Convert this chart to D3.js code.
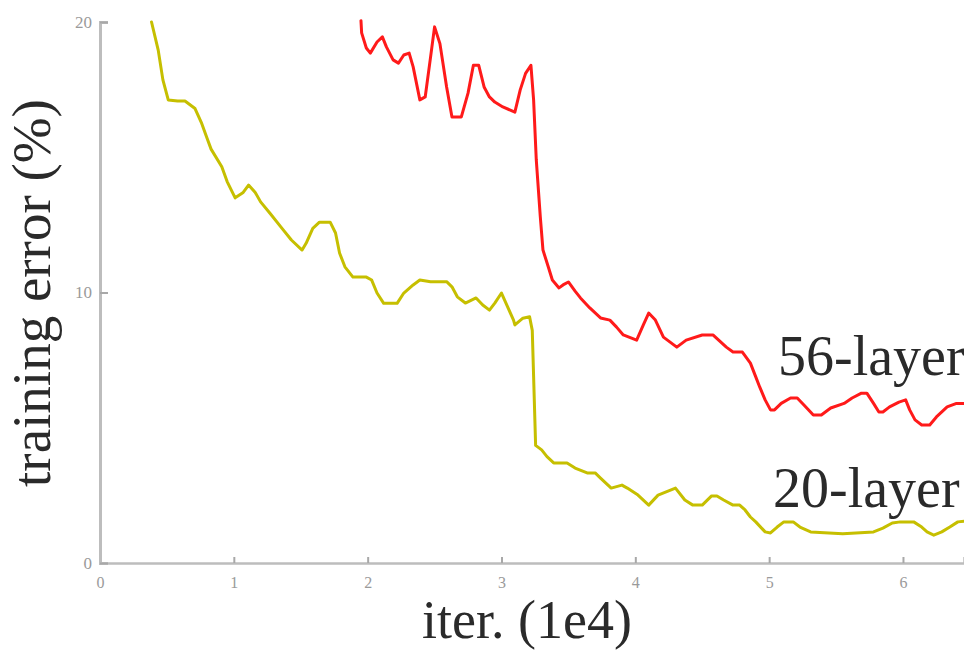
<!DOCTYPE html>
<html>
<head>
<meta charset="utf-8">
<script src="https://cdn.jsdelivr.net/npm/d3@7"></script>
<style>
  html, body { margin: 0; padding: 0; background: #fff; }
  svg { display: block; }
</style>
</head>
<body>
<svg id="chart" width="964" height="650"></svg>
<script>
// ---- data ----
const xTicks = [0, 1, 2, 3, 4, 5, 6];
const yTicks = [0, 10, 20];
const seriesNames = ["56-layer", "20-layer"];

const x56 = [1.95,1.955,1.99,2.02,2.07,2.11,2.14,2.19,2.23,2.27,2.31,2.34,2.39,2.43,2.47,2.50,2.54,2.59,2.63,2.70,2.75,2.79,2.83,2.87,2.91,2.95,3.01,3.10,3.14,3.18,3.22,3.24,3.26,3.29,3.31,3.35,3.38,3.43,3.46,3.50,3.55,3.59,3.66,3.74,3.81,3.86,3.91,4.01,4.06,4.10,4.15,4.21,4.31,4.38,4.50,4.58,4.68,4.73,4.80,4.86,4.90,4.93,4.97,5.01,5.04,5.09,5.16,5.21,5.26,5.33,5.39,5.46,5.56,5.62,5.69,5.73,5.78,5.82,5.85,5.90,5.97,6.02,6.05,6.09,6.14,6.20,6.25,6.33,6.40,6.46];
const y56 = [20.05,19.6,19.04,18.85,19.26,19.45,19.08,18.6,18.48,18.78,18.85,18.34,17.12,17.23,18.7,19.82,19.2,17.6,16.49,16.49,17.37,18.4,18.4,17.6,17.23,17.04,16.86,16.67,17.49,18.1,18.4,17.12,14.9,12.8,11.57,10.94,10.46,10.17,10.28,10.39,10.05,9.8,9.43,9.06,8.98,8.72,8.43,8.24,8.8,9.24,8.98,8.35,7.98,8.24,8.43,8.43,7.98,7.8,7.8,7.39,6.88,6.5,6.03,5.66,5.66,5.9,6.1,6.1,5.84,5.47,5.47,5.73,5.9,6.1,6.28,6.28,5.9,5.58,5.58,5.77,5.95,6.03,5.66,5.29,5.1,5.1,5.4,5.77,5.9,5.9];

const x20 = [0.385,0.435,0.47,0.51,0.58,0.635,0.71,0.76,0.80,0.83,0.91,0.95,1.01,1.07,1.11,1.16,1.20,1.27,1.36,1.43,1.51,1.54,1.59,1.64,1.72,1.76,1.79,1.83,1.89,1.99,2.03,2.07,2.12,2.22,2.27,2.34,2.39,2.47,2.59,2.63,2.67,2.73,2.81,2.86,2.91,2.95,3.00,3.05,3.09,3.10,3.16,3.21,3.23,3.255,3.30,3.34,3.39,3.49,3.55,3.64,3.70,3.74,3.82,3.90,3.94,4.02,4.10,4.17,4.30,4.37,4.43,4.50,4.57,4.61,4.66,4.73,4.78,4.82,4.86,4.90,4.97,5.01,5.06,5.11,5.18,5.23,5.31,5.55,5.78,5.85,5.92,5.98,6.08,6.14,6.18,6.23,6.29,6.35,6.41,6.46];
const y20 = [20.0,18.96,17.86,17.12,17.08,17.08,16.8,16.25,15.7,15.3,14.65,14.1,13.5,13.7,13.97,13.7,13.35,12.93,12.37,11.94,11.57,11.82,12.37,12.6,12.6,12.2,11.46,10.95,10.57,10.57,10.46,9.98,9.6,9.6,9.98,10.28,10.46,10.40,10.40,10.21,9.84,9.61,9.8,9.54,9.35,9.61,9.98,9.42,8.98,8.8,9.05,9.1,8.6,4.35,4.18,3.93,3.70,3.70,3.51,3.33,3.33,3.14,2.77,2.88,2.77,2.51,2.14,2.51,2.77,2.33,2.14,2.14,2.48,2.48,2.33,2.14,2.14,1.96,1.70,1.52,1.15,1.11,1.33,1.52,1.52,1.33,1.15,1.08,1.15,1.29,1.48,1.52,1.52,1.33,1.15,1.03,1.15,1.33,1.52,1.55];

// ---- layout ----
const svg = d3.select("#chart");
const mLeft = 100, mRight = 964, mTop = 22, mBottom = 563;
const x = d3.scaleLinear().domain([0, 6.456]).range([mLeft, mRight]);
const y = d3.scaleLinear().domain([0, 20]).range([mBottom, mTop]);

const axisColor = "#bdbdbd";
const tickColor = "#a8a8a8";
const labelColor = "#9a9a9a";

// x axis
const xAxis = d3.axisBottom(x).tickValues(xTicks).tickSize(-6).tickPadding(14).tickFormat(d3.format("d"));
const gx = svg.append("g").attr("transform", `translate(0,${mBottom})`).call(xAxis);
gx.select(".domain").attr("stroke", axisColor).attr("stroke-width", 2.5);
gx.selectAll(".tick line").attr("stroke", tickColor).attr("stroke-width", 2);
gx.selectAll(".tick text").attr("fill", labelColor).attr("font-family", "Liberation Serif, serif").attr("font-size", 16);

// y axis
const yAxis = d3.axisLeft(y).tickValues(yTicks).tickSize(-8).tickPadding(8).tickFormat(d3.format("d"));
const gy = svg.append("g").attr("transform", `translate(${mLeft},0)`).call(yAxis);
gy.select(".domain").attr("stroke", axisColor).attr("stroke-width", 3);
gy.selectAll(".tick line").attr("stroke", tickColor).attr("stroke-width", 2);
gy.selectAll(".tick text").attr("fill", labelColor).attr("font-family", "Liberation Serif, serif").attr("font-size", 17);

// lines
const line = d3.line().x(d => x(d[0])).y(d => y(d[1]));
const s56 = x56.map((v, i) => [v, y56[i]]);
const s20 = x20.map((v, i) => [v, y20[i]]);

svg.append("path").datum(s20).attr("d", line)
  .attr("fill", "none").attr("stroke", "#c6bf00").attr("stroke-width", 3)
  .attr("stroke-linejoin", "round").attr("stroke-linecap", "round");
svg.append("path").datum(s56).attr("d", line)
  .attr("fill", "none").attr("stroke", "#ff1a1a").attr("stroke-width", 3)
  .attr("stroke-linejoin", "round").attr("stroke-linecap", "round");

// series labels
const serif = "Liberation Serif, Times New Roman, serif";
svg.append("text").attr("x", 778).attr("y", 375).text(seriesNames[0])
  .attr("font-family", serif).attr("font-size", 56).attr("fill", "#2a2a2a");
svg.append("text").attr("x", 773).attr("y", 507).text(seriesNames[1])
  .attr("font-family", serif).attr("font-size", 56).attr("fill", "#2a2a2a");

// axis titles
svg.append("text").attr("x", 527).attr("y", 638).attr("text-anchor", "middle")
  .text("iter. (1e4)").attr("font-family", serif).attr("font-size", 54).attr("fill", "#2a2a2a");
svg.append("text").attr("transform", "translate(50,293) rotate(-90)").attr("text-anchor", "middle")
  .text("training error (%)").attr("font-family", serif).attr("font-size", 55).attr("fill", "#2a2a2a");
</script>
</body>
</html>
